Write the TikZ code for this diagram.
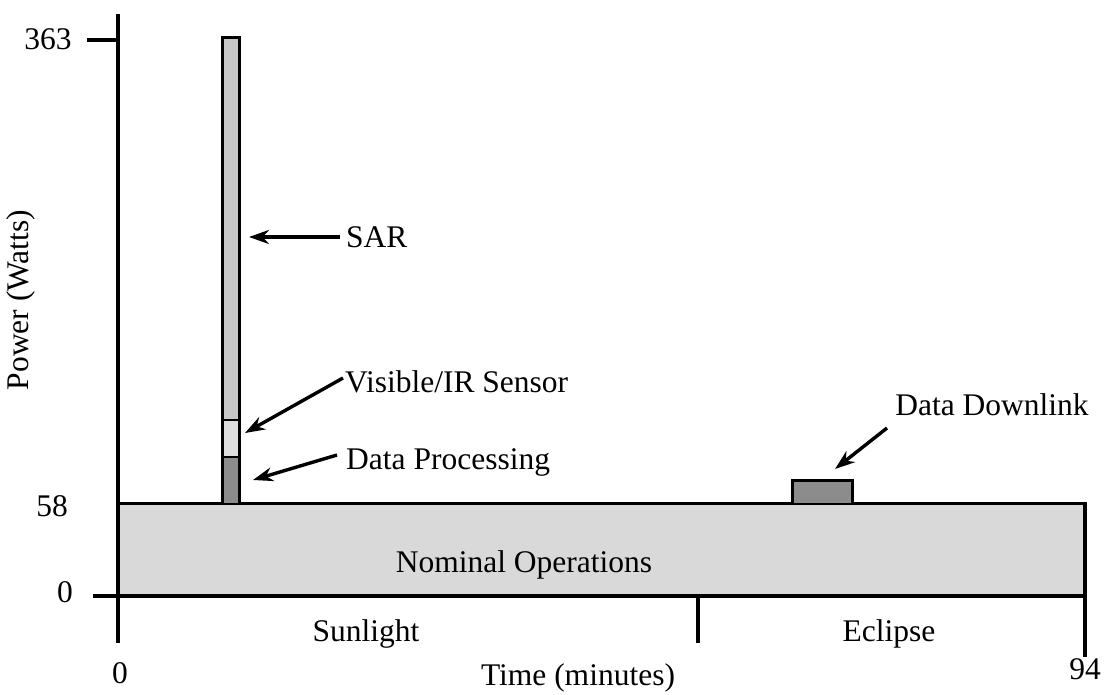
\documentclass[tikz,border=0pt]{standalone}
\usepackage{fontspec}
\setmainfont{Liberation Serif}
\usetikzlibrary{arrows.meta}
\begin{document}
\begin{tikzpicture}[x=1pt,y=-1pt,
  lbl/.style={font=\fontsize{31.5}{36}\selectfont, inner sep=2pt},
  axis/.style={line width=3.2pt},
  boxline/.style={line width=3pt},
  arr/.style={line width=3.4pt, -{Stealth[length=20pt,width=14pt]}},
  nomfill/.style={fill=black!15},
  sarfill/.style={fill=black!22},
  visfill/.style={fill=black!13},
  dpfill/.style={fill=black!45}]
\useasboundingbox (0,0) rectangle (1105,694);
% nominal operations box
\filldraw[nomfill, boxline] (118,503) rectangle (1085,596);
\node[lbl] (nom) at (524,565) {Nominal Operations};
% bar
\fill[sarfill] (222,37) rectangle (239,420);
\fill[visfill] (222,420) rectangle (239,457);
\fill[dpfill] (222,457) rectangle (239,503);
\draw[line width=1.2pt] (222,420) -- (239,420) (222,457) -- (239,457);
\draw[boxline] (222,503) -- (222,37) -- (239,37) -- (239,503);
% data downlink box
\filldraw[dpfill, boxline] (792,503) -- (792,480) -- (852,480) -- (852,503);
% axes
\draw[axis] (118,14) -- (118,643);
\draw[axis] (93,596) -- (1085,596);
\draw[axis] (1085,503) -- (1085,657);
\draw[axis] (698,596) -- (698,643);
\draw[axis] (87,40) -- (118,40);
% tick labels
\node[lbl] (t363) at (48,39) {363};
\node[lbl] (t58) at (52,506) {58};
\node[lbl] (t0y) at (65,592) {0};
\node[lbl] (t0x) at (120,673) {0};
\node[lbl] (t94) at (1085,669) {94};
\node[lbl] (sun) at (366,634) {Sunlight};
\node[lbl] (ecl) at (889,634) {Eclipse};
\node[lbl] (xlab) at (578,678) {Time (minutes)};
\node[lbl, rotate=90] (ylab) at (21,300) {Power (Watts)};
% annotations
\node[lbl, anchor=west] (sar) at (344,237) {SAR};
\node[lbl, anchor=west] (vis) at (343,382) {Visible/IR Sensor};
\node[lbl, anchor=west] (dp) at (344,462) {Data Processing};
\node[lbl] (dd) at (992,405) {Data Downlink};
\coordinate (sarS) at (340,237);
\coordinate (sarT) at (249,237);
\coordinate (visS) at (343,378);
\coordinate (visT) at (245,433);
\coordinate (dpS) at (337,455);
\coordinate (dpT) at (253,480);
\coordinate (ddS) at (887,428);
\coordinate (ddT) at (835,469);
\draw[arr] (sarS) -- (sarT);
\draw[arr] (visS) -- (visT);
\draw[arr] (dpS) -- (dpT);
\draw[arr] (ddS) -- (ddT);
\end{tikzpicture}
\end{document}
